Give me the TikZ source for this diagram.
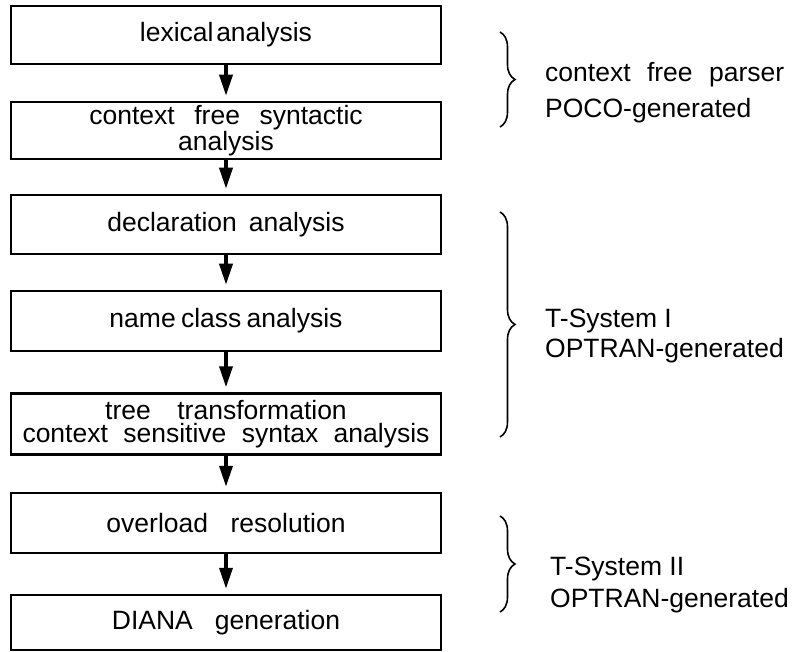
\documentclass[tikz,border=0pt]{standalone}
\usepackage{fontspec}
\setmainfont{Liberation Sans}
\usetikzlibrary{arrows.meta,decorations.pathreplacing}
\newcommand\gap[1]{\hspace{#1em}}
\begin{document}
\begin{tikzpicture}[x=1pt,y=-1pt,
  stagebox/.style={draw,line width=2.5pt,minimum width=430pt,inner sep=0pt,align=center,
    font=\fontsize{26.5}{23}\selectfont},
  flow/.style={line width=3.5pt,-{Triangle[width=13pt,length=21pt]},shorten >=5pt},
  bracestyle/.style={line width=1.6pt,decorate,decoration={brace,amplitude=15pt}},
  side/.style={anchor=base west,inner sep=0pt,font=\fontsize{26.5}{30}\selectfont}]
\useasboundingbox (0,0) rectangle (798,652);
\node[stagebox,minimum height=58pt] (b1) at (226,35) {lexical\gap{0.1}analysis};
\node[stagebox,minimum height=57pt,font=\fontsize{26.5}{20}\selectfont] (b2) at (226,130.5)
  {context\gap{0.74}free\gap{0.74}syntactic\\analysis};
\node[stagebox,minimum height=59pt] (b3) at (226,224.5) {declaration\gap{0.45}analysis};
\node[stagebox,minimum height=60pt] (b4) at (226,321) {name\gap{0.2}class\gap{0.2}analysis};
\node[stagebox,minimum height=61pt] (b5) at (226,424)
  {tree\gap{1}transformation\\context\gap{0.58}sensitive\gap{0.58}syntax\gap{0.58}analysis};
\node[stagebox,minimum height=60pt] (b6) at (226,523) {overload\gap{0.85}resolution};
\node[stagebox,minimum height=55pt] (b7) at (226,622.5) {DIANA\gap{0.83}generation};
\draw[flow] (b1) -- (b2);
\draw[flow] (b2) -- (b3);
\draw[flow] (b3) -- (b4);
\draw[flow] (b4) -- (b5);
\draw[flow] (b5) -- (b6);
\draw[flow] (b6) -- (b7);
\coordinate (br1a) at (500,32);  \coordinate (br1b) at (500,127);
\coordinate (br2a) at (500,212); \coordinate (br2b) at (500,437);
\coordinate (br3a) at (500,516); \coordinate (br3b) at (500,612);
\draw[bracestyle] (br1a) -- (br1b);
\draw[bracestyle] (br2a) -- (br2b);
\draw[bracestyle] (br3a) -- (br3b);
\node[side] (t1a) at (545,82) {context\gap{0.62}free\gap{0.62}parser};
\node[side] (t1b) at (545,118) {POCO-generated};
\node[side] (t2a) at (545,328) {T-System I};
\node[side] (t2b) at (545,357) {OPTRAN-generated};
\node[side] (t3a) at (550,575) {T-System II};
\node[side] (t3b) at (550,607) {OPTRAN-generated};
\end{tikzpicture}
\end{document}
